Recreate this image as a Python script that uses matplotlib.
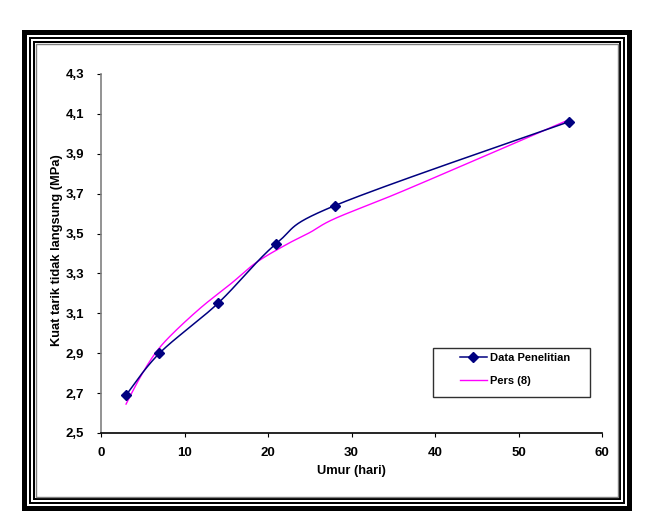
import numpy as np
import matplotlib
matplotlib.use('Agg')
import matplotlib.pyplot as plt
import matplotlib.patches as patches
from matplotlib.lines import Line2D

# data
umur = [3, 7, 14, 21, 28, 56]
kuat_tarik = [2.69, 2.90, 3.15, 3.45, 3.64, 4.06]

pers8_x = [3, 4.7, 6.5, 8.5, 12, 15.6, 18.6, 22.2, 25.0, 28.0, 35.4, 44.8, 56]
pers8_y = [2.645, 2.78, 2.90, 2.995, 3.13, 3.25, 3.355, 3.445, 3.505, 3.575, 3.70, 3.868, 4.07]

x_ticks = [0, 10, 20, 30, 40, 50, 60]
y_ticks = [2.5, 2.7, 2.9, 3.1, 3.3, 3.5, 3.7, 3.9, 4.1, 4.3]

W, H = 649, 525
FONT = 'Liberation Sans'


def smooth(xs, ys, n=30):
    # garis halus ala Excel (Bezier / Catmull-Rom)
    p = np.column_stack([xs, ys]).astype(float)
    p = np.vstack([p[0], p, p[-1]])
    out = []
    for i in range(1, len(p) - 2):
        p0, p1, p2, p3 = p[i - 1], p[i], p[i + 1], p[i + 2]
        c1 = p1 + (p2 - p0) / 6
        c2 = p2 - (p3 - p1) / 6
        t = np.linspace(0, 1, n)[:, None]
        seg = ((1 - t) ** 3) * p1 + 3 * ((1 - t) ** 2) * t * c1 + 3 * (1 - t) * t ** 2 * c2 + t ** 3 * p2
        out.append(seg)
    out = np.vstack(out)
    return out[:, 0], out[:, 1]


fig = plt.figure(figsize=(W / 100, H / 100), dpi=100)

# bingkai luar (koordinat piksel)
bg = fig.add_axes([0, 0, 1, 1], zorder=-1)
bg.set_xlim(0, W)
bg.set_ylim(H, 0)
bg.axis('off')
x0, x1, y0, y1 = 22, 632, 30, 511
for inset, col in [(0, 'black'), (5, 'white'), (7, 'black'), (9, 'white'), (11, 'black'), (13, 'white')]:
    bg.add_patch(patches.Rectangle((x0 + inset, y0 + inset), (x1 - x0) - 2 * inset, (y1 - y0) - 2 * inset,
                                   facecolor=col, edgecolor='none'))
bg.add_patch(patches.Rectangle((x0 + 14, y0 + 14), (x1 - x0) - 28, (y1 - y0) - 28,
                               facecolor='none', edgecolor='#808080', linewidth=1))
# kotak legenda
bg.add_patch(patches.Rectangle((433, 348), 157, 49, facecolor='white', edgecolor='#303030', linewidth=1))

ax = fig.add_axes([101 / W, 1 - 433 / H, 501 / W, 359 / H], zorder=1)
ax.set_facecolor('none')

sx, sy = smooth(umur, kuat_tarik)
ax.plot(sx, sy, color='#000080', linewidth=1.1, zorder=3)
ax.plot(umur, kuat_tarik, linestyle='none', marker='D', markersize=5, color='#000080', zorder=4)
px, py = smooth(pers8_x, pers8_y)
ax.plot(px, py, color='#FF00FF', linewidth=1.0, zorder=2)

ax.set_xlim(0, 60)
ax.set_ylim(2.5, 4.3)
ax.set_xticks(x_ticks)
ax.set_yticks(y_ticks)
ax.set_xticklabels([str(v) for v in x_ticks], fontfamily=FONT, fontweight='bold', fontsize=9.5)
ax.set_yticklabels([('%.1f' % v).replace('.', ',') for v in y_ticks], fontfamily=FONT, fontweight='bold', fontsize=9.5)
ax.tick_params(axis='x', direction='out', length=3, width=0.8, pad=7)
ax.tick_params(axis='y', direction='out', length=3, width=0.8, pad=9)

for s in ['top', 'right']:
    ax.spines[s].set_visible(False)
ax.spines['left'].set_color('#808080')
ax.spines['bottom'].set_color('black')
ax.spines['left'].set_linewidth(1.2)
ax.spines['bottom'].set_linewidth(1.2)

ax.set_xlabel('Umur (hari)', fontfamily=FONT, fontweight='bold', fontsize=9.3)
ax.set_ylabel('Kuat tarik tidak langsung (MPa)', fontfamily=FONT, fontweight='bold', fontsize=9.3)
ax.xaxis.set_label_coords(0.5, -0.09)
ax.yaxis.set_label_coords(-0.076, 0.51)

# legenda
h1 = Line2D([], [], color='#000080', marker='D', markersize=5, linewidth=1.1)
h2 = Line2D([], [], color='#FF00FF', linewidth=1.0)
leg = fig.legend([h1, h2], ['Data Penelitian', 'Pers (8)'], loc='upper left',
                 bbox_to_anchor=(460 / W, 1 - 353 / H), frameon=False, borderpad=0, borderaxespad=0,
                 handlelength=2.4, handletextpad=0.3, labelspacing=1.15,
                 prop={'family': FONT, 'weight': 'bold', 'size': 8})

fig.savefig('out.png', dpi=100)
